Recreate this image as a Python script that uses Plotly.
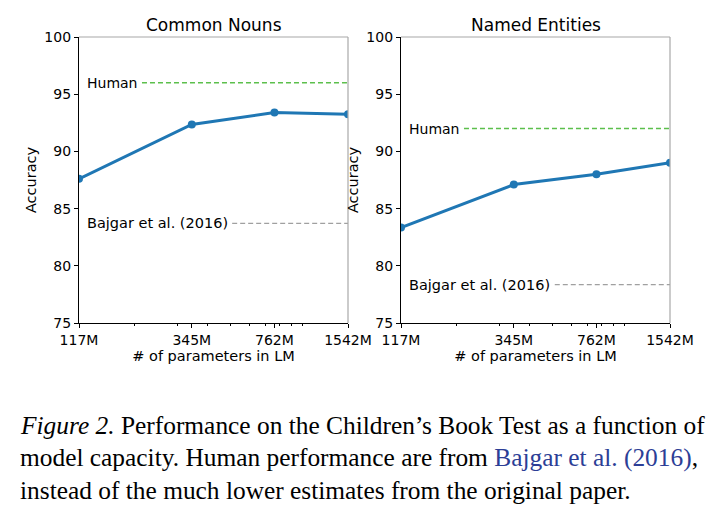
import plotly.graph_objects as go
from plotly.subplots import make_subplots

# model sizes (millions of parameters)
params = [117, 345, 762, 1542]
tick_labels = ["117M", "345M", "762M", "1542M"]
minor_vals = [200, 300, 400, 500, 600, 700, 800, 900, 1000]

panels = ["Common Nouns", "Named Entities"]
acc_cn = [87.6, 92.35, 93.4, 93.25]
acc_ne = [83.35, 87.1, 88.0, 89.0]
human = [96.0, 92.0]
bajgar = [83.7, 78.35]
# where the dashed reference lines start (M params), after their labels
human_start = [214, 214]
bajgar_start = [508, 511]

blue = "#1f77b4"
font = "DejaVu Sans"
W, H = 724, 519
OFF = 8  # page body margin in the browser


def px(x):
    return (x - OFF) / W


def py(y):
    return 1 - (y - OFF) / H


fig = make_subplots(rows=1, cols=2)

for i, acc in enumerate([acc_cn, acc_ne]):
    col = i + 1
    fig.add_trace(go.Scatter(x=params, y=acc, mode="lines+markers",
                             line=dict(color=blue, width=3),
                             marker=dict(color=blue, size=8),
                             cliponaxis=True, showlegend=False), row=1, col=col)
    fig.add_trace(go.Scatter(x=[human_start[i], params[-1]], y=[human[i], human[i]],
                             mode="lines", line=dict(color="#5cbf4c", width=1.3, dash="5px,3px"),
                             showlegend=False), row=1, col=col)
    fig.add_trace(go.Scatter(x=[bajgar_start[i], params[-1]], y=[bajgar[i], bajgar[i]],
                             mode="lines", line=dict(color="#a0a0a0", width=1.3, dash="5px,3px"),
                             showlegend=False), row=1, col=col)
    xr = "x domain" if col == 1 else "x2 domain"
    yr = "y" if col == 1 else "y2"
    fig.add_annotation(x=0.022, y=human[i], xref=xr, yref=yr, text="Human",
                       showarrow=False, xanchor="left", font=dict(size=14, color="black", family=font))
    fig.add_annotation(x=0.022, y=bajgar[i], xref=xr, yref=yr, text="Bajgar et al. (2016)",
                       showarrow=False, xanchor="left", font=dict(size=14.5, color="black", family=font))
    # top and right spines in grey
    fig.add_shape(type="line", xref=xr, yref="y domain" if col == 1 else "y2 domain",
                  x0=0, x1=1, y0=1, y1=1, line=dict(color="#a8a8a8", width=1.2))
    fig.add_shape(type="line", xref=xr, yref="y domain" if col == 1 else "y2 domain",
                  x0=1, x1=1, y0=0, y1=1, line=dict(color="#a8a8a8", width=1.2))

doms = [[px(79), px(348)], [px(401), px(670)]]
for i in range(2):
    ax = dict(type="log", range=[2.0682, 3.1881], domain=doms[i], automargin=False,
              tickvals=params, ticktext=tick_labels, ticks="outside", ticklen=4,
              tickcolor="black", showgrid=False, zeroline=False,
              showline=True, linecolor="black", linewidth=1.2,
              tickfont=dict(size=14, color="black", family=font),
              minor=dict(tickvals=minor_vals, ticks="outside", ticklen=2, tickcolor="black"),
              title=dict(text="# of parameters in LM", standoff=2,
                         font=dict(size=14.5, color="black", family=font)))
    ay = dict(range=[75, 100], domain=[py(323), py(37)], dtick=5, automargin=False,
              ticks="outside", ticklen=4, tickcolor="black", showgrid=False, zeroline=False,
              showline=True, linecolor="black", linewidth=1.2,
              tickfont=dict(size=14, color="black", family=font),
              title=dict(text="Accuracy", standoff=4,
                         font=dict(size=14.5, color="black", family=font)))
    fig.update_xaxes(ax, row=1, col=i + 1)
    fig.update_yaxes(ay, row=1, col=i + 1)

for i, name in enumerate(panels):
    fig.add_annotation(x=(doms[i][0] + doms[i][1]) / 2, y=py(25), xref="paper", yref="paper",
                       text=name, showarrow=False, xanchor="center", yanchor="middle",
                       font=dict(size=17, color="black", family=font))

caption = [
    "<i>Figure 2.</i> Performance on the Children’s Book Test as a function of",
    "model capacity. Human performance are from <span style='color:#2c3e96'>Bajgar et al. (2016)</span>,",
    "instead of the much lower estimates from the original paper.",
]
for k, line in enumerate(caption):
    fig.add_annotation(x=px(18), y=py(424.5 + 32.8 * k), xref="paper", yref="paper",
                       text=line, showarrow=False, xanchor="left", yanchor="middle",
                       font=dict(size=25.4, color="black", family="Liberation Serif"))

fig.update_layout(width=W, height=H, margin=dict(l=0, r=0, t=0, b=0),
                  plot_bgcolor="white", paper_bgcolor="white")

fig.write_html("out.html")
